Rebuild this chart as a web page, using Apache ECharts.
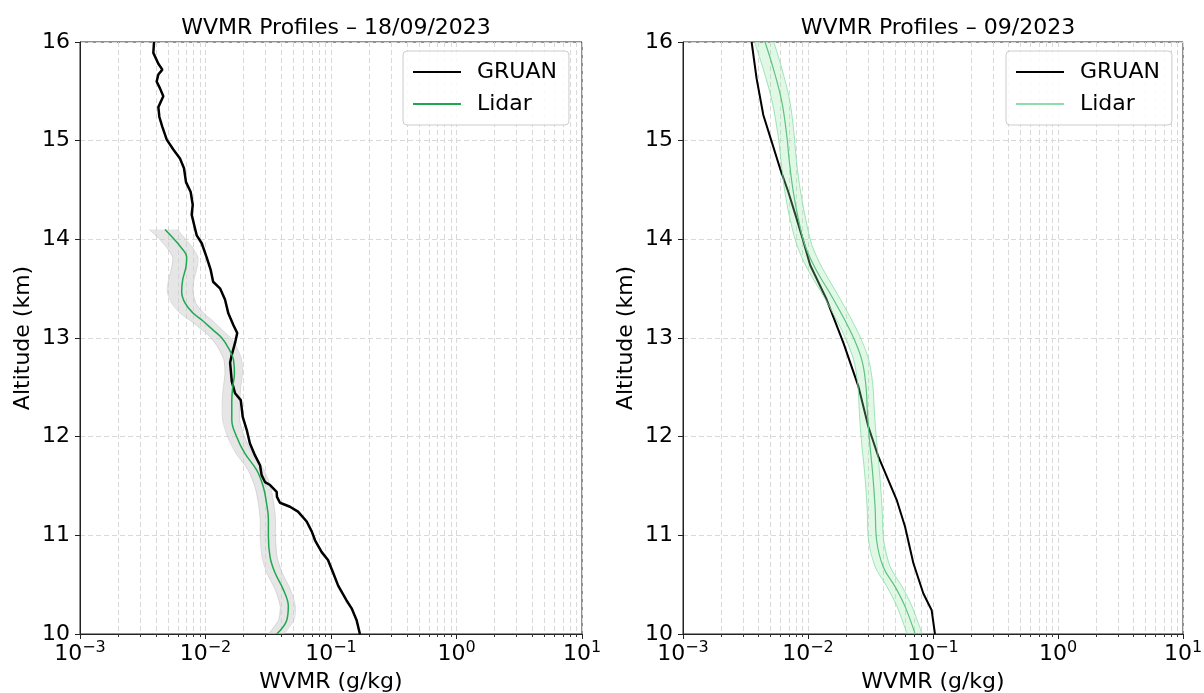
<!DOCTYPE html>
<html><head><meta charset="utf-8">
<script src="https://cdn.jsdelivr.net/npm/echarts@6/dist/echarts.min.js"></script>
<style>html,body{margin:0;padding:0;background:#fff;overflow:hidden}#c{width:1204px;height:693px}</style>
</head><body><div id="c"></div>
<script>
// ---------- data ----------
const titles = ['WVMR Profiles \u2013 18/09/2023', 'WVMR Profiles \u2013 09/2023'];
const xAxisName = 'WVMR (g/kg)';
const yAxisName = 'Altitude (km)';
const seriesNames = ['GRUAN', 'Lidar'];
const altTicks = [10, 11, 12, 13, 14, 15, 16];
const decadeTicks = [0.001, 0.01, 0.1, 1, 10];
const minorTickValues = [
  0.002,0.003,0.004,0.005,0.006,0.007,0.008,0.009,
  0.02,0.03,0.04,0.05,0.06,0.07,0.08,0.09,
  0.2,0.3,0.4,0.5,0.6,0.7,0.8,0.9,
  2,3,4,5,6,7,8,9
];

// Left panel: 18/09/2023
const gruanLeftAlt = [10.00,10.14,10.26,10.34,10.49,10.62,10.75,10.83,10.95,11.04,11.14,11.24,11.29,11.33,11.39,11.44,11.51,11.54,11.61,11.71,11.81,11.93,12.07,12.20,12.37,12.44,12.56,12.75,12.83,12.95,13.05,13.13,13.25,13.39,13.50,13.57,13.69,13.82,13.96,14.04,14.11,14.25,14.35,14.48,14.58,14.72,14.82,14.91,15.01,15.14,15.24,15.34,15.45,15.53,15.60,15.67,15.72,15.78,15.89,16.00];
const gruanLeftVal = [0.170,0.160,0.146,0.133,0.114,0.104,0.0946,0.0843,0.0746,0.0702,0.0640,0.0546,0.0471,0.0392,0.0371,0.0369,0.0327,0.0298,0.0280,0.0272,0.0248,0.0226,0.0213,0.0198,0.0191,0.0172,0.0162,0.0157,0.0162,0.0172,0.0179,0.0167,0.0152,0.0143,0.0131,0.0115,0.0110,0.0102,0.00933,0.00851,0.00825,0.00776,0.00791,0.00762,0.00699,0.00674,0.00626,0.00554,0.00491,0.00453,0.00429,0.00421,0.00461,0.00434,0.00408,0.00421,0.00453,0.00421,0.00384,0.00389];

const lidarLeftAlt = [10.00,10.14,10.28,10.45,10.62,10.78,10.99,11.16,11.32,11.49,11.66,11.83,12.00,12.17,12.37,12.51,12.64,12.78,12.90,13.00,13.08,13.17,13.25,13.35,13.47,13.59,13.72,13.82,13.91,14.01,14.10];
const lidarLeftVal = [0.0369,0.0444,0.0457,0.0417,0.0358,0.0327,0.0317,0.0317,0.0307,0.0289,0.0256,0.0206,0.0177,0.0162,0.0162,0.0165,0.0170,0.0167,0.0152,0.0135,0.0115,0.0096,0.0080,0.0069,0.00646,0.00658,0.00699,0.00708,0.00646,0.00554,0.00476];
const lidarLeftErr = [0.0052,0.0062,0.0063,0.0058,0.0050,0.0045,0.0044,0.0044,0.0043,0.0041,0.0037,0.0031,0.0027,0.0025,0.0026,0.0026,0.0027,0.0027,0.0026,0.0024,0.0021,0.0019,0.0017,0.0015,0.0015,0.0015,0.0016,0.0016,0.0015,0.0013,0.0012];

// Right panel: 09/2023 (monthly)
const gruanRightAlt = [10.00,10.24,10.41,10.72,11.09,11.36,11.80,12.10,12.51,12.95,13.39,13.74,13.98,14.21,14.48,14.72,14.99,15.26,15.63,16.00];
const gruanRightVal = [0.1037,0.0976,0.0837,0.0696,0.0597,0.0512,0.0365,0.0304,0.0253,0.0192,0.0141,0.0104,0.00918,0.00811,0.00696,0.00597,0.00512,0.00439,0.00388,0.00354];

const lidarRightAlt = [10.00,10.28,10.48,10.68,10.95,11.29,11.63,11.97,12.27,12.51,12.78,13.05,13.39,13.71,13.94,14.21,14.48,14.79,15.06,15.40,15.73,16.00];
const lidarRightVal = [0.0720,0.0597,0.0497,0.0400,0.0354,0.0344,0.0329,0.0310,0.0298,0.0291,0.0269,0.0222,0.0160,0.0114,0.00946,0.00837,0.00763,0.00709,0.00675,0.00616,0.00528,0.00453];
const lidarRightErr = [0.0099,0.0082,0.0069,0.0055,0.0049,0.0047,0.0045,0.0043,0.0041,0.0040,0.0037,0.0031,0.0022,0.0016,0.0013,0.0012,0.0011,0.0010,0.0010,0.0010,0.0009,0.0008];

// ---------- styles ----------
const FONT = 'DejaVu Sans';
const FS = 22;
const GREEN_L = '#1fa84f';
const GREEN_R_LINE = '#5cc27e';
const GREEN_R_LEGEND = '#8fdcaa';

function pairs(vals, alts){ return vals.map((v,i)=>[v, alts[i]]); }

function gridRenderer(params, api){
  const v = api.value(0);
  const top = api.coord([v, altTicks[altTicks.length-1]]);
  const bot = api.coord([v, altTicks[0]]);
  const x = Math.round(top[0]) + 0.5;
  return {type:'group', children:[
    {type:'line', shape:{x1:x, y1:top[1], x2:x, y2:bot[1]}, style:{stroke:'#d9d9d9', lineWidth:1, lineDash:[5,3]}},
    {type:'line', shape:{x1:x, y1:bot[1], x2:x, y2:bot[1]+3}, style:{stroke:'#333', lineWidth:1}}
  ]};
}

function bandRenderer(alts, vals, errs, fill, stroke){
  return function(params, api){
    if (params.dataIndex !== 0) return null;
    const lo = [], hi = [];
    for (let i=0;i<alts.length;i++){
      lo.push(api.coord([vals[i]-errs[i], alts[i]]));
      hi.push(api.coord([vals[i]+errs[i], alts[i]]));
    }
    const poly = lo.concat(hi.slice().reverse());
    const children = [{type:'polygon', shape:{points:poly}, style:{fill:fill, stroke:null}}];
    if (stroke){
      children.push({type:'polyline', shape:{points:lo, smooth:0.3}, style:{stroke:stroke, fill:null, lineWidth:1}});
      children.push({type:'polyline', shape:{points:hi, smooth:0.3}, style:{stroke:stroke, fill:null, lineWidth:1}});
    }
    return {type:'group', children};
  };
}

function xAxisFor(gi){
  return {
    type:'log', logBase:10, gridIndex:gi, min:decadeTicks[0], max:decadeTicks[decadeTicks.length-1],
    name:xAxisName, nameLocation:'middle', nameGap:37,
    nameTextStyle:{fontFamily:FONT, fontSize:FS, color:'#000'},
    axisLine:{show:true, onZero:false, lineStyle:{color:'#222', width:1}},
    axisTick:{show:true, length:5, lineStyle:{color:'#222'}},
    splitLine:{show:true, lineStyle:{color:'#d9d9d9', type:[5,3], width:1}},
    axisLabel:{
      margin:6, color:'#000', fontFamily:FONT, fontSize:FS,
      formatter:function(v){ const e = Math.round(Math.log10(v)); return '{b|10}{s|' + (e<0?'\u2212':'') + Math.abs(e) + '}'; },
      rich:{ b:{fontFamily:FONT, fontSize:FS, color:'#000'}, s:{fontFamily:FONT, fontSize:16, color:'#000', padding:[0,0,12,0]} }
    }
  };
}
function yAxisFor(gi){
  return {
    type:'value', gridIndex:gi, min:altTicks[0], max:altTicks[altTicks.length-1], interval:1,
    name:yAxisName, nameLocation:'middle', nameGap:46, nameRotate:90,
    nameTextStyle:{fontFamily:FONT, fontSize:FS, color:'#000'},
    axisLine:{show:true, lineStyle:{color:'#222', width:1}},
    axisTick:{show:true, length:5, lineStyle:{color:'#222'}},
    splitLine:{show:true, lineStyle:{color:'#d9d9d9', type:[5,3], width:1}},
    axisLabel:{margin:10, color:'#000', fontFamily:FONT, fontSize:FS}
  };
}

function legendFor(left, lidarColor){
  return {
    left:left, top:51, orient:'vertical', selectedMode:false,
    icon:'rect', itemWidth:48, itemHeight:2, itemGap:10,
    padding:[10,12,10,10],
    backgroundColor:'rgba(255,255,255,0.85)', borderColor:'#cccccc', borderWidth:1, borderRadius:4,
    textStyle:{fontFamily:FONT, fontSize:FS, color:'#000', padding:[0,0,0,11]},
    data:[{name:seriesNames[0], itemStyle:{color:'#000'}}, {name:seriesNames[1], itemStyle:{color:lidarColor}}]
  };
}

const chart = echarts.init(document.getElementById('c'), null, {renderer:'canvas'});
chart.setOption({
  backgroundColor:'#fff',
  animation:false,
  textStyle:{fontFamily:FONT},
  title:[
    {text:titles[0], left:331, top:12, textAlign:'center', textStyle:{fontFamily:FONT, fontSize:FS, fontWeight:'normal', color:'#000'}},
    {text:titles[1], left:933, top:12, textAlign:'center', textStyle:{fontFamily:FONT, fontSize:FS, fontWeight:'normal', color:'#000'}}
  ],
  grid:[
    {left:80, top:42, width:502, height:592, outerBoundsMode:'none', containLabel:false, show:true, borderColor:'#222', borderWidth:1, backgroundColor:'transparent'},
    {left:683, top:42, width:500, height:592, outerBoundsMode:'none', containLabel:false, show:true, borderColor:'#222', borderWidth:1, backgroundColor:'transparent'}
  ],
  xAxis:[xAxisFor(0), xAxisFor(1)],
  yAxis:[yAxisFor(0), yAxisFor(1)],
  legend:[legendFor(403, GREEN_L), legendFor(1006, GREEN_R_LEGEND)],
  series:[
    {type:'custom', name:'minorGridL', xAxisIndex:0, yAxisIndex:0, z:1, silent:true, clip:false,
     data:minorTickValues.map(v=>[v, altTicks[0]]), encode:{x:0, y:1}, renderItem:gridRenderer},
    {type:'custom', name:'minorGridR', xAxisIndex:1, yAxisIndex:1, z:1, silent:true, clip:false,
     data:minorTickValues.map(v=>[v, altTicks[0]]), encode:{x:0, y:1}, renderItem:gridRenderer},

    {type:'custom', name:'bandL', xAxisIndex:0, yAxisIndex:0, z:2, silent:true,
     data:[[lidarLeftVal[0], lidarLeftAlt[0]]], encode:{x:0, y:1},
     renderItem:bandRenderer(lidarLeftAlt, lidarLeftVal, lidarLeftErr, 'rgba(205,205,205,0.5)', 'rgba(195,195,195,0.55)')},
    {type:'line', name:seriesNames[0], xAxisIndex:0, yAxisIndex:0, z:3, data:pairs(gruanLeftVal, gruanLeftAlt),
     showSymbol:false, symbol:'none', lineStyle:{color:'#000', width:2.5}, itemStyle:{color:'#000'}},
    {type:'line', name:seriesNames[1], xAxisIndex:0, yAxisIndex:0, z:4, data:pairs(lidarLeftVal, lidarLeftAlt),
     showSymbol:false, symbol:'none', smooth:0.4, lineStyle:{color:GREEN_L, width:1.5}, itemStyle:{color:GREEN_L}},

    {type:'line', name:seriesNames[0], xAxisIndex:1, yAxisIndex:1, z:3, data:pairs(gruanRightVal, gruanRightAlt),
     showSymbol:false, symbol:'none', lineStyle:{color:'#000', width:2}, itemStyle:{color:'#000'}},
    {type:'custom', name:'bandR', xAxisIndex:1, yAxisIndex:1, z:4, silent:true,
     data:[[lidarRightVal[0], lidarRightAlt[0]]], encode:{x:0, y:1},
     renderItem:bandRenderer(lidarRightAlt, lidarRightVal, lidarRightErr, 'rgba(150,230,170,0.28)', 'rgba(130,220,160,0.75)')},
    {type:'line', name:seriesNames[1], xAxisIndex:1, yAxisIndex:1, z:5, data:pairs(lidarRightVal, lidarRightAlt),
     showSymbol:false, symbol:'none', smooth:0.4, lineStyle:{color:GREEN_R_LINE, width:1.2}, itemStyle:{color:GREEN_R_LEGEND}}
  ]
});
</script>
</body></html>
